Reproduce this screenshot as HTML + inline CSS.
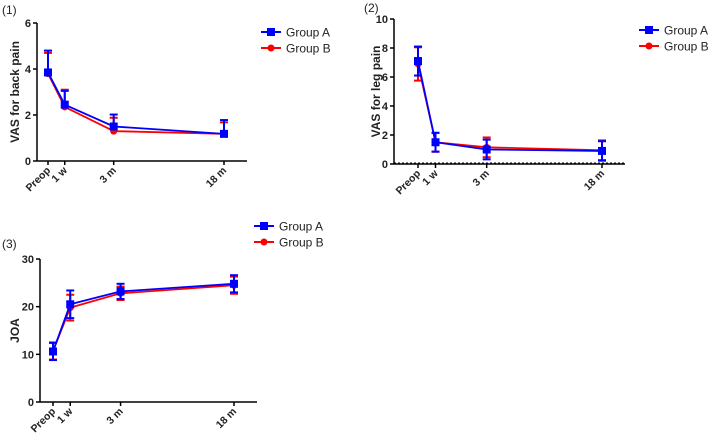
<!DOCTYPE html>
<html><head><meta charset="utf-8">
<style>
html,body{margin:0;padding:0;background:#fff;}
svg{display:block;font-family:"Liberation Sans",Arial,sans-serif;}
</style></head>
<body>
<svg id="s" width="709" height="438" viewBox="0 0 709 438" xmlns="http://www.w3.org/2000/svg"></svg>
<script>
const categories = ["Preop","1 w","3 m","18 m"];
const timeMonths = [0, 0.25, 3, 18];
// Panel 1 - VAS back pain
const p1A = [3.85, 2.45, 1.5, 1.18];
const p1Aup = [0.95, 0.6, 0.52, 0.6];
const p1B = [3.8, 2.35, 1.3, 1.18];
const p1Bup = [0.9, 0.75, 0.58, 0.5];
const p1Ticks = [0, 2, 4, 6];
// Panel 2 - VAS leg pain
const p2A = [7.1, 1.5, 1.0, 0.9];
const p2Aerr = [1.0, 0.65, 0.68, 0.67];
const p2B = [6.9, 1.5, 1.15, 0.95];
const p2Berr = [1.15, 0.65, 0.68, 0.68];
const p2Ticks = [0, 2, 4, 6, 8, 10];
// Panel 3 - JOA
const p3A = [10.6, 20.5, 23.2, 24.8];
const p3Aerr = [1.8, 2.9, 1.6, 1.8];
const p3B = [10.7, 19.8, 22.8, 24.5];
const p3Berr = [1.8, 2.7, 1.4, 1.8];
const p3Ticks = [0, 10, 20, 30];

const svg = document.getElementById('s');
const NS = "http://www.w3.org/2000/svg";
function mk(tag, attrs, parent){
  const e = document.createElementNS(NS, tag);
  for (const k in attrs) e.setAttribute(k, attrs[k]);
  (parent||svg).appendChild(e);
  return e;
}
const POW = 0.55;
function tscale(t){ return Math.pow(t, POW) / Math.pow(timeMonths[3], POW); }
function panel(cfg){
  const g = mk('g', {});
  
  
  const ys = v => cfg.y0 - (v - cfg.min) / (cfg.max - cfg.min) * (cfg.y0 - cfg.y1);
  const xs = i => cfg.x0 + tscale(timeMonths[i]) * (cfg.x3 - cfg.x0);
  const lab = mk('text', {x: cfg.lx, y: cfg.ly, 'font-size': 12, fill: '#222'}, g);
  lab.textContent = cfg.label;
  
  
  const ya = mk('line', {x1: cfg.ax, y1: cfg.y1, x2: cfg.ax, y2: cfg.y0, stroke: '#000', 'stroke-width': 1.5}, g);
  
  
  const xa = mk('line', {x1: cfg.ax, y1: cfg.y0, x2: cfg.axEnd, y2: cfg.y0, stroke: '#000', 'stroke-width': 1.5}, g);
  
  
  if (cfg.dashed) {
    const d = mk('line', {x1: cfg.ax, y1: cfg.y0 - 1, x2: cfg.axEnd, y2: cfg.y0 - 1, stroke: '#000', 'stroke-width': 1, 'stroke-dasharray': '2,2'}, g);
    
    
  }
  cfg.ticks.forEach(t => {
    const y = ys(t);
    mk('line', {x1: cfg.ax - 4, y1: y, x2: cfg.ax, y2: y, stroke: '#000', 'stroke-width': 1.5}, g);
    const tx = mk('text', {x: cfg.ax - 6, y: y + 4, 'font-size': 11, 'font-weight': 'bold', 'text-anchor': 'end', fill: '#222'}, g);
    tx.textContent = t;
    
    
  });
  categories.forEach((c, i) => {
    const x = xs(i);
    mk('line', {x1: x, y1: cfg.y0, x2: x, y2: cfg.y0 + 4, stroke: '#000', 'stroke-width': 1.5}, g);
    const tx = mk('text', {x: x + 3, y: cfg.y0 + 10, 'font-size': 10.5, 'font-weight': 'bold', 'text-anchor': 'end', fill: '#222', transform: `rotate(-45 ${x + 3} ${cfg.y0 + 10})`}, g);
    tx.textContent = c;
    
    
  });
  const yt = mk('text', {x: cfg.ytx, y: (cfg.y0 + cfg.y1) / 2, 'font-size': 12, 'font-weight': 'bold', 'text-anchor': 'middle', fill: '#222', transform: `rotate(-90 ${cfg.ytx} ${(cfg.y0 + cfg.y1) / 2})`}, g);
  yt.textContent = cfg.ytitle;
  
  
  const series = [
    {vals: cfg.B, up: cfg.Bup, dn: cfg.Bdn, color: '#f00', shape: 'circle', name: 'group-b'},
    {vals: cfg.A, up: cfg.Aup, dn: cfg.Adn, color: '#00f', shape: 'square', name: 'group-a'}
  ];
  series.forEach(s => {
    const sg = mk('g', {}, g);
    
    
    s.vals.forEach((v, i) => {
      const x = xs(i);
      const top = ys(v + s.up[i]);
      const bot = s.dn ? ys(v - s.dn[i]) : ys(v);
      mk('line', {x1: x, y1: top, x2: x, y2: bot, stroke: s.color, 'stroke-width': 2}, sg);
      mk('line', {x1: x - 4, y1: top, x2: x + 4, y2: top, stroke: s.color, 'stroke-width': 2}, sg);
      if (s.dn) mk('line', {x1: x - 4, y1: bot, x2: x + 4, y2: bot, stroke: s.color, 'stroke-width': 2}, sg);
    });
    const pts = s.vals.map((v, i) => xs(i) + ',' + ys(v)).join(' ');
    const pl = mk('polyline', {points: pts, fill: 'none', stroke: s.color, 'stroke-width': 1.8}, sg);
    
    
    s.vals.forEach((v, i) => {
      const x = xs(i), y = ys(v);
      let m;
      if (s.shape === 'square') m = mk('rect', {x: x - 4, y: y - 4, width: 8, height: 8, fill: s.color}, sg);
      else m = mk('circle', {cx: x, cy: y, r: 3.5, fill: s.color}, sg);
      
      
    });
  });
  [['Group A', '#00f', 'square', cfg.legY], ['Group B', '#f00', 'circle', cfg.legY + 16]].forEach(l => {
    const lg = mk('g', {}, g);
    
    
    mk('line', {x1: cfg.legX, y1: l[3], x2: cfg.legX + 20, y2: l[3], stroke: l[1], 'stroke-width': 2}, lg);
    if (l[2] === 'square') mk('rect', {x: cfg.legX + 6, y: l[3] - 4, width: 8, height: 8, fill: l[1]}, lg);
    else mk('circle', {cx: cfg.legX + 10, cy: l[3], r: 3.5, fill: l[1]}, lg);
    const t = mk('text', {x: cfg.legX + 25, y: l[3] + 4.5, 'font-size': 12, fill: '#222'}, lg);
    t.textContent = l[0];
  });
}
panel({name: 'chart-back-pain', label: '(1)', lx: 2, ly: 14, ax: 37, axEnd: 247, y0: 161, y1: 23, min: 0, max: 6,
  x0: 48, x3: 224, ticks: p1Ticks, ytitle: 'VAS for back pain', ytx: 19,
  A: p1A, Aup: p1Aup, B: p1B, Bup: p1Bup, legX: 261, legY: 32});
panel({name: 'chart-leg-pain', label: '(2)', lx: 364, ly: 12, ax: 394, axEnd: 625, y0: 164, y1: 19, min: 0, max: 10,
  x0: 418, x3: 602, ticks: p2Ticks, ytitle: 'VAS for leg pain', ytx: 380, dashed: true,
  A: p2A, Aup: p2Aerr, Adn: p2Aerr, B: p2B, Bup: p2Berr, Bdn: p2Berr, legX: 639, legY: 30});
panel({name: 'chart-joa', label: '(3)', lx: 2, ly: 248, ax: 40, axEnd: 257, y0: 402, y1: 259, min: 0, max: 30,
  x0: 53, x3: 234, ticks: p3Ticks, ytitle: 'JOA', ytx: 19,
  A: p3A, Aup: p3Aerr, Adn: p3Aerr, B: p3B, Bup: p3Berr, Bdn: p3Berr, legX: 254, legY: 226});
</script>
</body></html>
